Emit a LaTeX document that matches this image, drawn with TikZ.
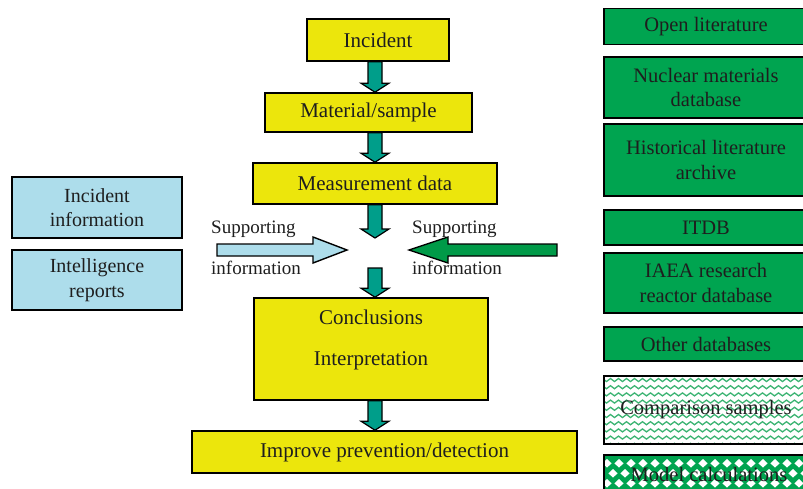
\documentclass[tikz,border=0pt]{standalone}
\usepackage{fontspec}
\setmainfont{Liberation Serif}
\usetikzlibrary{calc,decorations.pathmorphing}
\definecolor{ylw}{RGB}{236,230,12}
\definecolor{tealar}{RGB}{0,158,138}
\definecolor{grn}{RGB}{0,164,80}
\definecolor{grnar}{RGB}{0,154,72}
\definecolor{lblue}{RGB}{173,221,235}
\definecolor{wavegrn}{RGB}{60,180,115}
\definecolor{txt}{RGB}{30,30,30}
\newcommand{\blockdown}[2]{%
  \draw[barrow] ($(#1)+(-7,0)$) -- ($(#2)+(-7,-9)$) -- ($(#2)+(-14,-9)$) -- (#2)
    -- ($(#2)+(14,-9)$) -- ($(#2)+(7,-9)$) -- ($(#1)+(7,0)$) -- cycle;}
\begin{document}
\begin{tikzpicture}[x=1pt,y=-1pt,
  box/.style={draw=black, line width=1.6pt, inner sep=0pt, align=center, text=txt},
  ybox/.style={box, fill=ylw, font=\fontsize{21}{25}\selectfont},
  bbox/.style={box, fill=lblue, font=\fontsize{20}{24.5}\selectfont},
  gbox/.style={box, fill=grn, font=\fontsize{20.5}{24.5}\selectfont, minimum width=204pt},
  ytext/.style={inner sep=0pt, text=txt, font=\fontsize{21}{25}\selectfont},
  barrow/.style={fill=tealar, draw=black, line width=1.2pt, line join=miter},
  sarrow/.style={draw=black, line width=1.4pt, line join=miter},
  lbl/.style={font=\fontsize{19}{22}\selectfont, anchor=base west, inner sep=0pt, text=txt}]
\useasboundingbox (0,0) rectangle (803,488);
\clip (0,0) rectangle (803,488);
\fill[white] (0,0) rectangle (803,488);

% central flow
\node[ybox, minimum width=142pt, minimum height=42pt] (inc) at (378,40) {Incident};
\node[ybox, minimum width=207pt, minimum height=39pt] (mat) at (368.5,112.5) {Material/sample};
\node[ybox, minimum width=244pt, minimum height=41pt] (meas) at (375,183.5) {Measurement data};
\node[ybox, minimum width=234pt, minimum height=102pt] (concl) at (371,349) {};
\node[ytext] (conclT) at (371,317) {Conclusions};
\node[ytext] (interT) at (371,361) {Interpretation};
\node[ybox, minimum width=385pt, minimum height=42pt] (imp) at (384.5,452) {Improve prevention/detection};

\coordinate (hub) at (375,253);
\coordinate (h1) at (375,238);
\coordinate (h2) at (375,268);
\coordinate (a1) at (inc.south -| hub);
\coordinate (b1) at (mat.north -| hub);
\coordinate (a2) at (mat.south -| hub);
\coordinate (b2) at (meas.north -| hub);
\coordinate (a3) at (meas.south -| hub);
\coordinate (b4) at (concl.north -| hub);
\coordinate (a5) at (concl.south -| hub);
\coordinate (b5) at (imp.north -| hub);
\blockdown{a1}{b1}
\blockdown{a2}{b2}
\blockdown{a3}{h1}
\blockdown{h2}{b4}
\blockdown{a5}{b5}

% supporting arrows
\coordinate (lt) at (217,250);
\coordinate (lh) at (347,250);
\draw[sarrow, fill=lblue] ($(lt)+(0,-6)$) -- ($(lh)+(-34,-6)$) -- ($(lh)+(-34,-13)$) -- (lh)
  -- ($(lh)+(-34,13)$) -- ($(lh)+(-34,6)$) -- ($(lt)+(0,6)$) -- cycle;
\coordinate (rt) at (557,250);
\coordinate (rh) at (409,250);
\draw[sarrow, fill=grnar] ($(rt)+(0,-6)$) -- ($(rh)+(39,-6)$) -- ($(rh)+(39,-13)$) -- (rh)
  -- ($(rh)+(39,13)$) -- ($(rh)+(39,6)$) -- ($(rt)+(0,6)$) -- cycle;
\node[lbl] (ls1) at (211,233) {Supporting};
\node[lbl] (ls2) at (211,274) {information};
\node[lbl] (rs1) at (412,233) {Supporting};
\node[lbl] (rs2) at (412,274) {information};

% left boxes
\node[bbox, minimum width=170pt, minimum height=61pt] (iinfo) at (97,207.5) {Incident\\information};
\node[bbox, minimum width=170pt, minimum height=60pt] (intel) at (97,280) {Intelligence\\reports};

% right boxes
\node[gbox, minimum height=36pt] (open) at (706,26.5) {Open literature};
\node[gbox, minimum height=61pt] (nuc) at (706,87.5) {Nuclear materials\\database};
\node[gbox, minimum height=72pt] (hist) at (706,160) {Historical literature\\archive};
\node[gbox, minimum height=35pt] (itdb) at (706,227.5) {ITDB};
\node[gbox, minimum height=60pt] (iaea) at (706,283) {IAEA research\\reactor database};
\node[gbox, minimum height=34pt] (other) at (706,344) {Other databases};

% comparison samples (wavy pattern)
\node[box, fill=white, minimum width=204pt, minimum height=68pt] (comp) at (706,410) {};
\begin{scope}
  \clip (605,377) rectangle (807,443);
  \foreach \r in {0,...,9} {
    \draw[wavegrn, line width=1.3pt, decorate, decoration={snake, segment length=8pt, amplitude=1.5pt}]
      (600,380+7.2*\r) -- (812,380+7.2*\r);
  }
\end{scope}
\draw[black, line width=1.6pt] (604,376) rectangle (808,444);
\node[ytext, font=\fontsize{20.5}{24}\selectfont] (compT) at (706,410) {Comparison samples};

% model calculations (diamond pattern)
\node[box, fill=grn, minimum width=204pt, minimum height=42pt] (model) at (706,476) {};
\begin{scope}
  \clip (605,456) rectangle (807,494);
  \foreach \i in {0,...,18} {
    \foreach \j in {0,...,2} {
      \fill[white] (607+12*\i,459+20*\j) -- ++(4.6,4.3) -- ++(-4.6,4.3) -- ++(-4.6,-4.3) -- cycle;
      \fill[white] (613+12*\i,469+20*\j) -- ++(4.6,4.3) -- ++(-4.6,4.3) -- ++(-4.6,-4.3) -- cycle;
    }
  }
\end{scope}
\draw[black, line width=1.6pt] (604,455) rectangle (808,497);
\node[ytext, font=\fontsize{20.5}{24}\selectfont] (modelT) at (709,474) {Model calculations};
\end{tikzpicture}
\end{document}
